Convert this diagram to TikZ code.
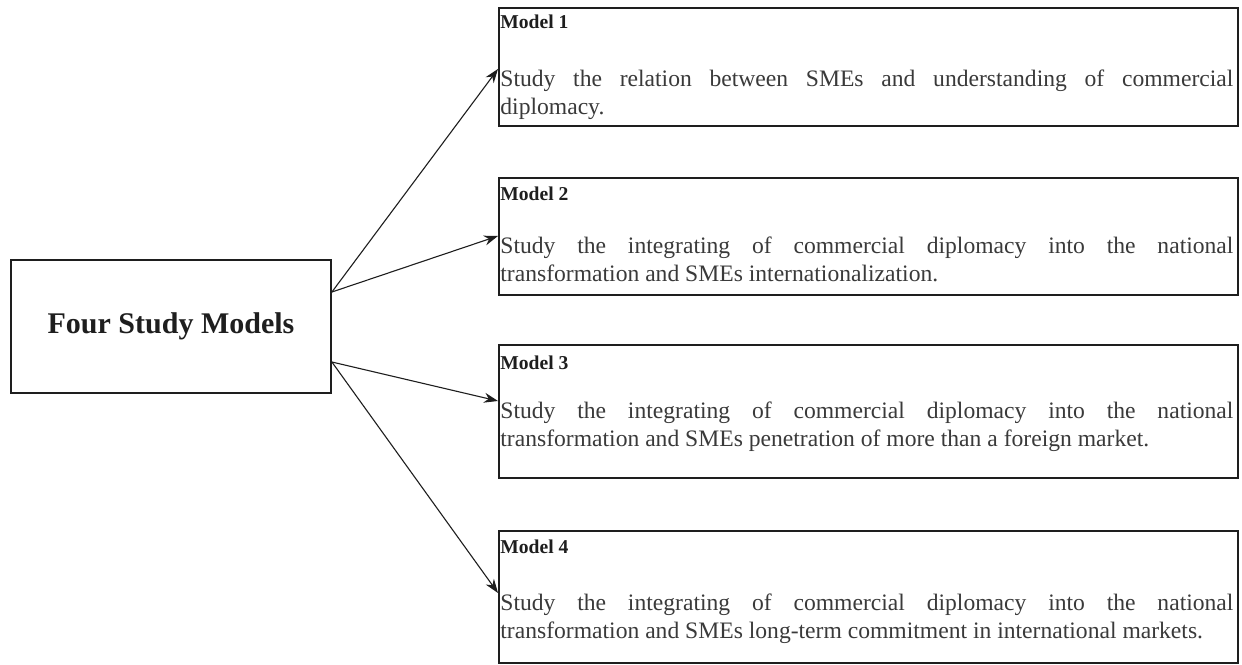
\documentclass[tikz,border=0pt]{standalone}
\usepackage{fontspec}
\setmainfont{Liberation Serif}
\usepackage{tikz}
\usetikzlibrary{
  arrows.meta,
  positioning,
  calc,
}
\definecolor{ink}{HTML}{1E1E1E}
\definecolor{bodytext}{HTML}{3A3A3A}
\tikzset{
  >={Stealth[length=7pt,width=5pt]},
  hub/.style={
    draw=ink,
    line width=0.9pt,
    minimum width=160pt,
    minimum height=66.5pt,
    inner sep=0pt,
    font=\fontsize{15}{18}\selectfont\bfseries,
    text=ink,
  },
  modelbox/.style={
    draw=ink,
    line width=0.75pt,
    anchor=north west,
    minimum width=369.5pt,
    minimum height=#1,
    inner sep=0pt,
  },
  modeltag/.style={anchor=base west, inner sep=0pt, font=\fontsize{9.8}{12}\selectfont\bfseries, text=ink},
  modeltext/.style={
    anchor=base west,
    inner sep=0pt,
    text width=366.5pt,
    align=justify,
    font=\fontsize{11.8}{14}\selectfont,
    text=bodytext,
  },
  link/.style={->, draw=ink, line width=0.55pt},
}

\begin{document}
\begin{tikzpicture}[x=0.5pt,y=-0.5pt]
  \useasboundingbox (0,0) rectangle (1242,664);
  \fill[white] (0,0) rectangle (1242,664);

  % hub
  \node[hub] (four) at (171,326.5) {Four Study Models};
  \coordinate (forkA) at ([yshift=17.25pt]four.east);
  \coordinate (forkB) at ([yshift=-17.75pt]four.east);

  % model 1
  \node[modelbox=59pt] (m1) at (498,7) {};
  \node[modeltag] (tag1) at ([shift={(2,21)}]m1.north west) {Model 1};
  \node[modeltext] (body1) at ([shift={(2,79)}]m1.north west) {%
    Study the relation between SMEs and understanding of commercial\linebreak\vspace{3.5pt}%
    diplomacy.};

  % model 2
  \node[modelbox=58.5pt] (m2) at (498,177) {};
  \node[modeltag] (tag2) at ([shift={(2,23)}]m2.north west) {Model 2};
  \node[modeltext] (body2) at ([shift={(2,76)}]m2.north west) {%
    Study the integrating of commercial diplomacy into the national\linebreak
    transformation and SMEs internationalization.};

  % model 3
  \node[modelbox=66.5pt] (m3) at (498,344) {};
  \node[modeltag] (tag3) at ([shift={(2,25)}]m3.north west) {Model 3};
  \node[modeltext] (body3) at ([shift={(2,74)}]m3.north west) {%
    Study the integrating of commercial diplomacy into the national\linebreak
    transformation and SMEs penetration of more than a foreign market.};

  % model 4
  \node[modelbox=66pt] (m4) at (498,530) {};
  \node[modeltag] (tag4) at ([shift={(2,23)}]m4.north west) {Model 4};
  \node[modeltext] (body4) at ([shift={(2,80)}]m4.north west) {%
    Study the integrating of commercial diplomacy into the national\linebreak
    transformation and SMEs long-term commitment in international markets.};

  % arrows
  \draw[link] (forkA) -- (m1.west |- body1.north);
  \draw[link] (forkA) -- (m2.west |- body2.north);
  \draw[link] (forkB) -- (m3.west |- body3.north);
  \draw[link] (forkB) -- (m4.west |- body4.north);
\end{tikzpicture}
\end{document}
